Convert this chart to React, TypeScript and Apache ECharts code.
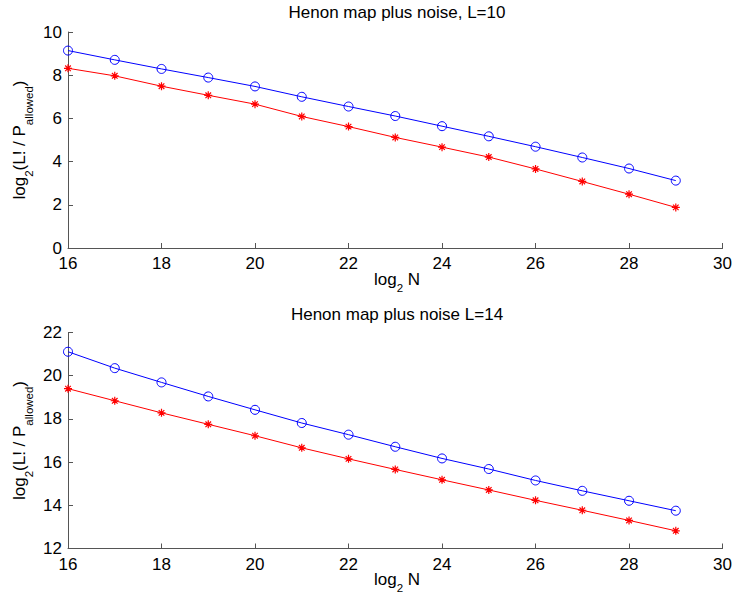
import React, { useEffect, useRef } from "react";
import * as echarts from "echarts";

const xValues = [16, 17, 18, 19, 20, 21, 22, 23, 24, 25, 26, 27, 28, 29];
const topCircle = [9.14, 8.71, 8.29, 7.89, 7.48, 7.0, 6.55, 6.11, 5.64, 5.17, 4.69, 4.19, 3.68, 3.12];
const topStar = [8.32, 7.97, 7.49, 7.07, 6.66, 6.09, 5.62, 5.12, 4.67, 4.21, 3.66, 3.08, 2.49, 1.88];
const botCircle = [21.11, 20.35, 19.69, 19.04, 18.42, 17.81, 17.27, 16.71, 16.17, 15.68, 15.15, 14.67, 14.21, 13.75];
const botStar = [19.4, 18.84, 18.28, 17.75, 17.22, 16.66, 16.15, 15.66, 15.18, 14.71, 14.23, 13.77, 13.3, 12.82];

const titles = ["Henon map plus noise, L=10", "Henon map plus noise L=14"];
const xName = "{m|log}{s|2}{m| N}";
const yName = "{m|log}{s|2}{m|(L! / P}{s|allowed}{m|)}";

const FONT = "'Liberation Sans', Arial, Helvetica, sans-serif";
const FS = 17;
const AXIS_COLOR = "#555555";

const asterisk =
  "path://M5 0L5 10M0 5L10 5M1.5 1.5L8.5 8.5M1.5 8.5L8.5 1.5";

const richStyle = {
  m: { fontSize: FS, fontFamily: FONT, lineHeight: 30, fill: "#000" },
  s: { fontSize: 11.5, fontFamily: FONT, lineHeight: 6, verticalAlign: "bottom", fill: "#000" },
};

function zip(xs: number[], ys: number[]) {
  return xs.map((x, i) => [x, ys[i]]);
}

export default function App() {
  const ref = useRef<HTMLDivElement>(null);
  useEffect(() => {
    if (!ref.current) return;
    const chart = echarts.init(ref.current, undefined, { renderer: "svg" });
    const grids = [
      { left: 68, right: 9, top: 32, height: 216 },
      { left: 68, right: 9, top: 332.5, height: 216 },
    ];
    const yRanges = [
      [0, 10],
      [12, 22],
    ];
    const axisCommon = {
      axisLine: { show: true, lineStyle: { color: AXIS_COLOR, width: 1 } },
      axisTick: { show: true, inside: true, length: 5, lineStyle: { color: AXIS_COLOR } },
      splitLine: { show: false },
      axisLabel: { color: "#000", fontSize: FS, fontFamily: FONT },
    };
    const xAxis = grids.map((_, i) => ({
      type: "value",
      gridIndex: i,
      min: 16,
      max: 30,
      interval: 2,
      ...axisCommon,
      axisLabel: { ...axisCommon.axisLabel, margin: 7 },
    }));
    const yAxis = grids.map((_, i) => ({
      type: "value",
      gridIndex: i,
      min: yRanges[i][0],
      max: yRanges[i][1],
      interval: 2,
      ...axisCommon,
      axisLabel: { ...axisCommon.axisLabel, margin: 6 },
    }));
    const circleSeries = (data: number[], i: number) => ({
      type: "line",
      xAxisIndex: i,
      yAxisIndex: i,
      data: zip(xValues, data),
      symbol: "circle",
      symbolSize: 9,
      showAllSymbol: true,
      lineStyle: { color: "#0000ff", width: 1 },
      itemStyle: { color: "rgba(0,0,0,0)", borderColor: "#0000ff", borderWidth: 1 },
      emphasis: { disabled: true },
    });
    const starSeries = (data: number[], i: number) => ({
      type: "line",
      xAxisIndex: i,
      yAxisIndex: i,
      data: zip(xValues, data),
      symbol: asterisk,
      symbolSize: 8,
      showAllSymbol: true,
      lineStyle: { color: "#ff0000", width: 1 },
      itemStyle: { color: "#ff0000", borderColor: "#ff0000", borderWidth: 1.2 },
      emphasis: { disabled: true },
    });
    const graphic: any[] = [];
    const centers = [
      { title: 12, xname: 279, ymid: 140 },
      { title: 314, xname: 579, ymid: 440.5 },
    ];
    centers.forEach((c, i) => {
      graphic.push({
        type: "text",
        x: 397,
        y: c.title,
        style: {
          text: titles[i],
          fontSize: FS,
          fontFamily: FONT,
          fill: "#000",
          align: "center",
          verticalAlign: "middle",
        },
      });
      graphic.push({
        type: "text",
        x: 397,
        y: c.xname,
        style: {
          text: xName,
          rich: richStyle,
          align: "center",
          verticalAlign: "middle",
        },
      });
      graphic.push({
        type: "text",
        x: 19.5,
        y: c.ymid,
        rotation: Math.PI / 2,
        style: {
          text: yName,
          rich: richStyle,
          align: "center",
          verticalAlign: "middle",
        },
      });
    });
    chart.setOption({
      animation: false,
      backgroundColor: "#ffffff",
      grid: grids,
      xAxis,
      yAxis,
      series: [
        circleSeries(topCircle, 0),
        starSeries(topStar, 0),
        circleSeries(botCircle, 1),
        starSeries(botStar, 1),
      ],
      graphic,
    });
    return () => chart.dispose();
  }, []);
  return (
    <div
      ref={ref}
      style={{ position: "fixed", left: 0, top: 0, width: 735, height: 597, background: "#fff" }}
    />
  );
}
